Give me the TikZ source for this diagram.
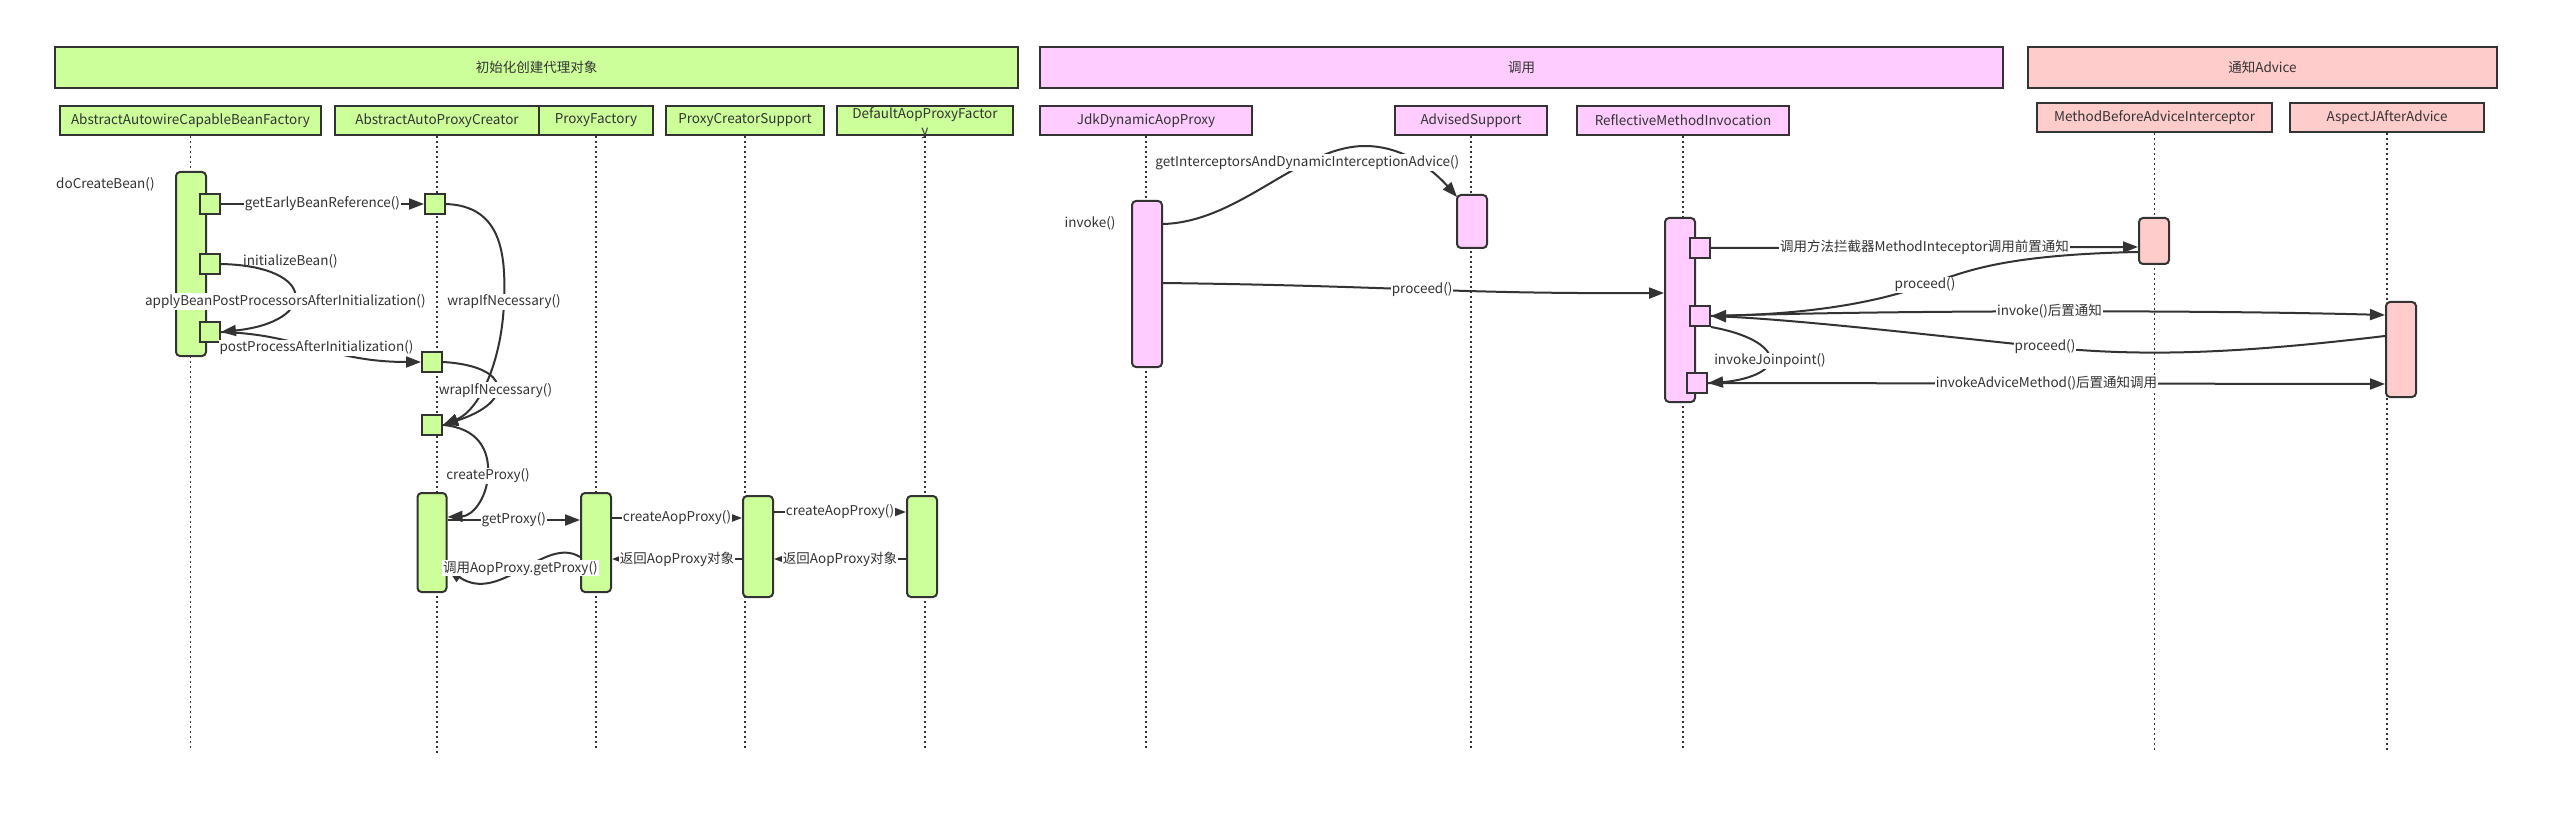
\documentclass[tikz,border=0pt]{standalone}
\usepackage{fontspec}
\setmainfont{Noto Sans CJK SC}
\usetikzlibrary{arrows.meta, positioning, calc}
\definecolor{ln}{HTML}{333333}
\definecolor{gInit}{HTML}{CCFF99}
\definecolor{gCall}{HTML}{FFCCFF}
\definecolor{gAdv}{HTML}{FFCCCC}
\newcommand\seqfont{\fontsize{13.5}{16}\selectfont}
\tikzset{
  % group banners across the top
  grp/.style={draw=ln, line width=2.5pt, fill=#1, minimum height=41pt,
    inner sep=0pt, font=\seqfont, text=ln},
  % lifeline heads
  hdr/.style={draw=ln, line width=2.5pt, fill=#1, minimum height=29pt,
    inner sep=0pt, font=\seqfont, text=ln},
  lifeln/.style={draw=ln, line width=1.5pt, dash pattern=on 2pt off 3pt},
  % activation bars and call squares
  act/.style={draw=ln, line width=2pt, fill=#1, rounded corners=4pt,
    minimum width=30pt, inner sep=0pt},
  sq/.style={draw=ln, line width=2pt, fill=#1, minimum size=20pt, inner sep=0pt},
  % messages
  msg/.style={draw=ln, line width=2pt, -{Triangle[length=15pt,width=11pt]}},
  lbl/.style={fill=white, inner sep=1pt, font=\seqfont, text=ln},
  txt/.style={inner sep=0pt, font=\seqfont, text=ln},
}

\begin{document}
\begin{tikzpicture}[x=1pt, y=-1pt]
\fill[white] (0,0) rectangle (2559,818);
\useasboundingbox (0,0) rectangle (2559,818);

% ===== group banners =====
\node[grp=gInit, minimum width=963pt] (bInit) at (536.5,67.5) {初始化创建代理对象};
\node[grp=gCall, minimum width=963pt] (bCall) at (1521.5,67.5) {调用};
\node[grp=gAdv, minimum width=469pt] (bAdv) at (2262.5,67.5) {通知Advice};

% ===== lifeline heads =====
\node[hdr=gInit, minimum width=261pt] (hBF) at (190.5,120.5) {AbstractAutowireCapableBeanFactory};
\node[hdr=gInit, minimum width=204pt] (hAPC) at (437,120.5) {AbstractAutoProxyCreator};
\node[hdr=gInit, minimum width=114pt, right=-2.5pt of hAPC] (hPF) {ProxyFactory};
\node[hdr=gInit, minimum width=158pt] (hPCS) at (745,120.5) {ProxyCreatorSupport};
\node[hdr=gInit, minimum width=176pt] (hDF) at (925,120.5) {};
\node[hdr=gCall, minimum width=212pt] (hJdk) at (1146,120.5) {JdkDynamicAopProxy};
\node[hdr=gCall, minimum width=152pt] (hAS) at (1471,120.5) {AdvisedSupport};
\node[hdr=gCall, minimum width=212pt] (hRMI) at (1683,120.5) {ReflectiveMethodInvocation};
\node[hdr=gAdv, minimum width=235pt] (hMB) at (2154.5,117.5) {MethodBeforeAdviceInterceptor};
\node[hdr=gAdv, minimum width=194pt] (hAJ) at (2387,117.5) {AspectJAfterAdvice};

% ===== lifelines =====
\coordinate (lend) at (0,748);
\coordinate (lendAPC) at (0,754);
\coordinate (lendAdv) at (0,750);
\foreach \h in {hBF,hPF,hPCS,hDF,hJdk,hAS,hRMI}
  \draw[lifeln] (\h.south) -- (\h.south |- lend);
\draw[lifeln] (hAPC.south) -- (hAPC.south |- lendAPC);
\foreach \h in {hMB,hAJ}
  \draw[lifeln] (\h.south) -- (\h.south |- lendAdv);
% wrapped head text spills over the box edge
\node[txt, align=center, font=\fontsize{13.5}{17}\selectfont, yshift=-3pt] (hDFt) at (hDF) {DefaultAopProxyFactor\\y};

% ===== activation bars =====
\node[act=gInit, minimum height=184pt] (aBF) at (191,264) {};
\node[act=gInit, minimum height=99pt, minimum width=29pt] (aAPC) at (432,542.5) {};
\node[act=gInit, minimum height=99pt] (aPF) at (596,542.5) {};
\node[act=gInit, minimum height=101pt] (aPCS) at (758,546.5) {};
\node[act=gInit, minimum height=101pt] (aDF) at (922,546.5) {};
\node[act=gCall, minimum height=166pt] (aJdk) at (1147,284) {};
\node[act=gCall, minimum height=53pt] (aAS) at (1472,221.5) {};
\node[act=gCall, minimum height=184pt] (aRMI) at (1680,310) {};
\node[act=gAdv, minimum height=46pt] (aMB) at (2154,241) {};
\node[act=gAdv, minimum height=95pt] (aAJ) at (2401,349.5) {};

% call squares
\node[sq=gInit] (qBF1) at (210,204) {};
\node[sq=gInit] (qBF2) at (210,264) {};
\node[sq=gInit] (qBF3) at (210,332) {};
\node[sq=gInit] (qAPC1) at (435,204) {};
\node[sq=gInit] (qAPC2) at (432,362) {};
\node[sq=gInit] (qAPC3) at (432,425) {};
\node[sq=gCall] (qRMI1) at (1700,248) {};
\node[sq=gCall] (qRMI2) at (1700,316) {};
\node[sq=gCall] (qRMI3) at (1697,383) {};

% ===== creating the proxy =====
\node[txt, anchor=west] (doCreate) at (56,184) {doCreateBean()};
\draw[msg] (qBF1.east) -- node[lbl]{getEarlyBeanReference()} (qAPC1.west);
\draw[msg] (qBF2.east) .. controls (318,266) and (318,322) .. (qBF3.east)
  node[lbl, pos=0.57, xshift=-7pt]{applyBeanPostProcessorsAfterInitialization()};
\node[txt, anchor=west] (initBean) at (243,261) {initializeBean()};
\draw[msg] (qBF3.east) .. controls (300,334) and (330,362) .. (qAPC2.west)
  node[lbl, pos=0.5]{postProcessAfterInitialization()};
\draw[msg] (qAPC1.east) .. controls (502,206) and (506,255) .. (504,302)
  node[lbl]{wrapIfNecessary()} .. controls (502,360) and (480,410) .. (qAPC3.east);
\draw[msg] (qAPC2.east) .. controls (512,366) and (515,402) .. (qAPC3.east)
  node[lbl, pos=0.55]{wrapIfNecessary()};
\draw[msg] (qAPC3.east) .. controls (478,428) and (490,450) .. (488,476)
  node[lbl]{createProxy()} .. controls (486,500) and (472,516) .. ($(aAPC.north east)+(0,25)$);

\draw[msg] ($(aAPC.north east)+(0,28)$) -- node[lbl]{getProxy()} ($(aPF.north west)+(0,28)$);
\draw[msg] ($(aPF.north east)+(0,26)$) -- node[lbl]{createAopProxy()} ($(aPCS.north west)+(0,23)$);
\draw[msg] ($(aPCS.north east)+(0,17)$) -- node[lbl]{createAopProxy()} ($(aDF.north west)+(0,17)$);
\draw[msg] ($(aDF.north west)+(0,64)$) -- node[lbl]{返回AopProxy对象} ($(aPCS.north east)+(0,64)$);
\draw[msg] ($(aPCS.north west)+(0,64)$) -- node[lbl]{返回AopProxy对象} ($(aPF.north east)+(0,67)$);
\draw[msg] ($(aPF.north west)+(0,65)$) .. controls (545,535) and (500,605) .. ($(aAPC.north east)+(0,77)$)
  node[lbl, pos=0.5]{调用AopProxy.getProxy()};

% ===== invocation =====
\node[txt] (invokeTxt) at (1090,223) {invoke()};
\draw[msg] ($(aJdk.north east)+(0,24)$) .. controls (1240,222) and (1300,146) .. (1365,146)
  node[lbl, pos=0.7]{getInterceptorsAndDynamicInterceptionAdvice()}
  .. controls (1405,146) and (1435,172) .. ($(aAS.north west)+(1,3)$);
\draw[msg] ($(aJdk.north east)+(0,83)$) .. controls (1400,286) and (1450,294) .. ($(aRMI.north west)+(0,76)$)
  node[lbl, pos=0.5]{proceed()};

% ===== advice chain =====
\draw[msg] (qRMI1.east) -- node[lbl]{调用方法拦截器MethodInteceptor调用前置通知} ($(aMB.north west)+(0,30)$);
\draw[msg] ($(aMB.north west)+(0,35)$) .. controls (1990,255) and (1960,275) .. (1925,285)
  node[lbl]{proceed()} .. controls (1870,305) and (1800,314) .. (qRMI2.east);
\draw[msg] (qRMI2.east) .. controls (1900,310) and (2200,310) .. ($(aAJ.north west)+(0,14)$)
  node[lbl, pos=0.5]{invoke()后置通知};
\draw[msg] ($(aAJ.north west)+(0,35)$) .. controls (2250,352) and (2150,358) .. (2045,347)
  node[lbl]{proceed()} .. controls (1930,335) and (1800,320) .. (qRMI2.east);
\draw[msg] (qRMI2.south east) .. controls (1755,335) and (1772,350) .. (1770,361)
  node[lbl]{invokeJoinpoint()} .. controls (1768,374) and (1740,381) .. (qRMI3.east);
\draw[msg] (qRMI3.east) -- node[lbl]{invokeAdviceMethod()后置通知调用} ($(aAJ.north west)+(0,83)$);

\end{tikzpicture}
\end{document}
